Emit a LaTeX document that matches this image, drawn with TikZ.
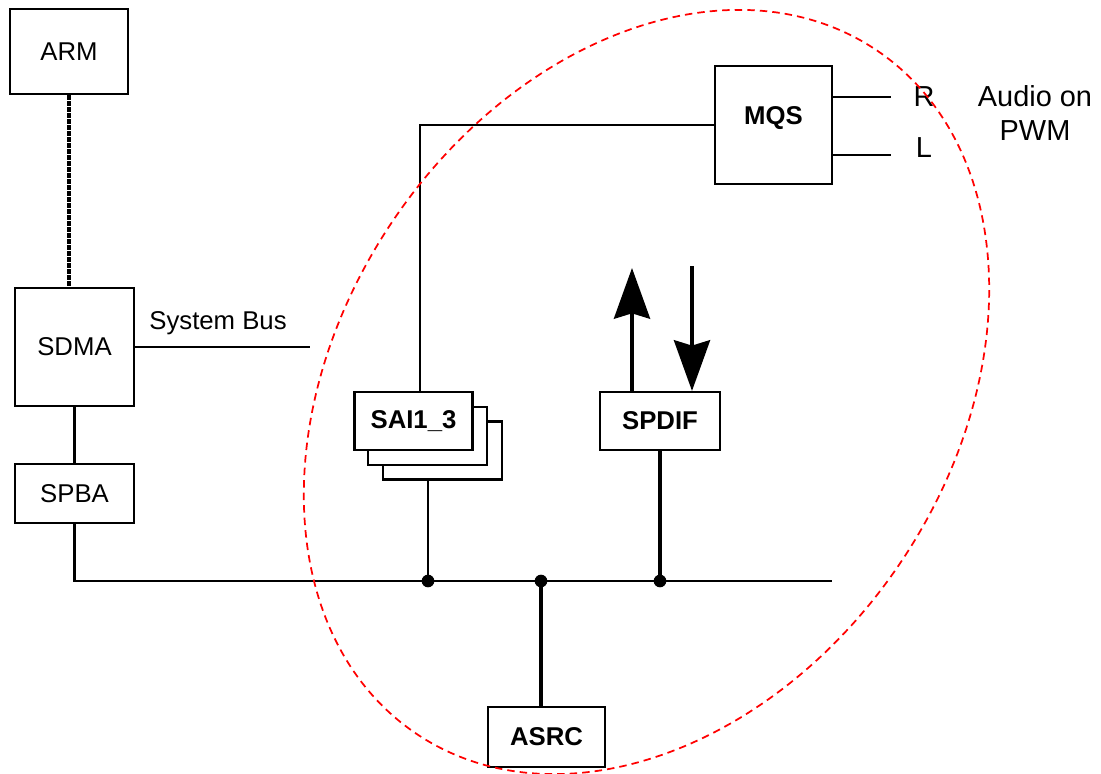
\documentclass[tikz,border=0pt]{standalone}
\usepackage{fontspec}
\setmainfont{Liberation Sans}
\usetikzlibrary{arrows.meta}

\tikzset{every picture/.style={line width=0.75pt}}
\tikzset{
	blk/.style={draw, line width=1.6pt, fill=white, inner sep=0pt, font=\fontsize{19.3}{23}\selectfont},
	bblk/.style={blk, font=\fontsize{19.3}{23}\selectfont\bfseries},
	wire/.style={line width=1.6pt},
	fatwire/.style={line width=2.7pt},
	junction/.style={circle, fill=black, inner sep=0pt, minimum size=9.5pt},
	bigtip/.style={line width=3pt, -{Stealth[length=38pt,width=27pt,inset=4pt]}},
	pinlabel/.style={font=\fontsize{21.7}{26}\selectfont}
}

\begin{document}
\begin{tikzpicture}[x=0.75pt,y=0.75pt,yscale=-1,xscale=1]
	\useasboundingbox (0,0) rectangle (1101,774);

	%Shape: Rectangle [ARM]
	\node[blk, minimum width=88.5pt, minimum height=63.75pt] (arm) at (69,51.5) {ARM};
	%Shape: Rectangle [SDMA]
	\node[blk, minimum width=89.25pt, minimum height=88.5pt] (sdma) at (74.5,347) {SDMA};
	%Shape: Rectangle [SPBA]
	\node[blk, minimum width=89.25pt, minimum height=44.25pt] (spba) at (74.5,493.5) {SPBA};
	%Shape: Rectangle [SAI stack]
	\node[blk, minimum width=89.25pt, minimum height=43.5pt] (saic) at (442.5,450.5) {};
	\node[blk, minimum width=89.25pt, minimum height=43.5pt] (saib) at (427.5,436) {};
	\node[bblk, minimum width=88.5pt, minimum height=43.5pt] (sai) at (413.5,421) {SAI1\_3};
	%Shape: Rectangle [MQS]
	\node[bblk, minimum width=87.75pt, minimum height=88.5pt, text depth=13.5pt] (mqs) at (773.5,125) {MQS};
	%Shape: Rectangle [SPDIF]
	\node[bblk, minimum width=90pt, minimum height=43.5pt] (spdif) at (660,421) {SPDIF};
	%Shape: Rectangle [ASRC]
	\node[bblk, minimum width=87.75pt, minimum height=45pt] (asrc) at (546.5,737) {ASRC};

	% free ends
	\coordinate (sysend) at (310,347);
	\coordinate (busend) at (832,581);
	\coordinate (saiup) at (420,125);
	\coordinate (rend) at (891,97);
	\coordinate (lend) at (891,155);
	\coordinate (outtip) at (632,268);
	\coordinate (intail) at (692,266);

	% junctions on the bus
	\node[junction] (jsai) at (428,581) {};
	\node[junction] (jasrc) at (541,581) {};
	\node[junction] (jspdif) at (660,581) {};

	% Connectors
	\draw[line width=3.2pt, dash pattern=on 3.6pt off 0.9pt] (arm.south) -- (arm.south |- sdma.north);
	\draw[wire] (sdma.east) -- (sysend);
	\draw[wire] (sdma.south) -- (spba.north);
	\draw[wire] (spba.south) |- (busend);
	\draw[wire] (jsai.center) -- (jsai |- saic.south);
	\draw[wire] (saiup |- sai.north) -- (saiup) -- (saiup -| mqs.west);
	\draw[fatwire] (jasrc.center) -- (jasrc |- asrc.north);
	\draw[fatwire] (spdif.south) -- (jspdif.center);
	\draw[wire] (mqs.east |- rend) -- (rend);
	\draw[wire] (mqs.east |- lend) -- (lend);
	\draw[bigtip] (spdif.north -| outtip) -- (outtip);
	\draw[bigtip] (intail) -- (intail |- spdif.north);

	% Text Node
	\node[font=\fontsize{19.3}{23}\selectfont] (syslab) at (218,323) {System Bus};
	% Text Node
	\node[pinlabel] (rlab) at (924,97) {R};
	% Text Node
	\node[pinlabel] (llab) at (924,148) {L};
	% Text Node
	\node[pinlabel, align=center] (pwmlab) at (1035,113) {Audio on\\PWM};

	%Shape: Ellipse [audio domain]
	\draw[color={rgb, 255:red, 255; green, 0; blue, 0}, line width=1.3pt, dash pattern=on 5.6pt off 3.8pt, rotate around={-56:(646.5,392)}] (646.5,392) ellipse [x radius=412, y radius=306];

\end{tikzpicture}
\end{document}
